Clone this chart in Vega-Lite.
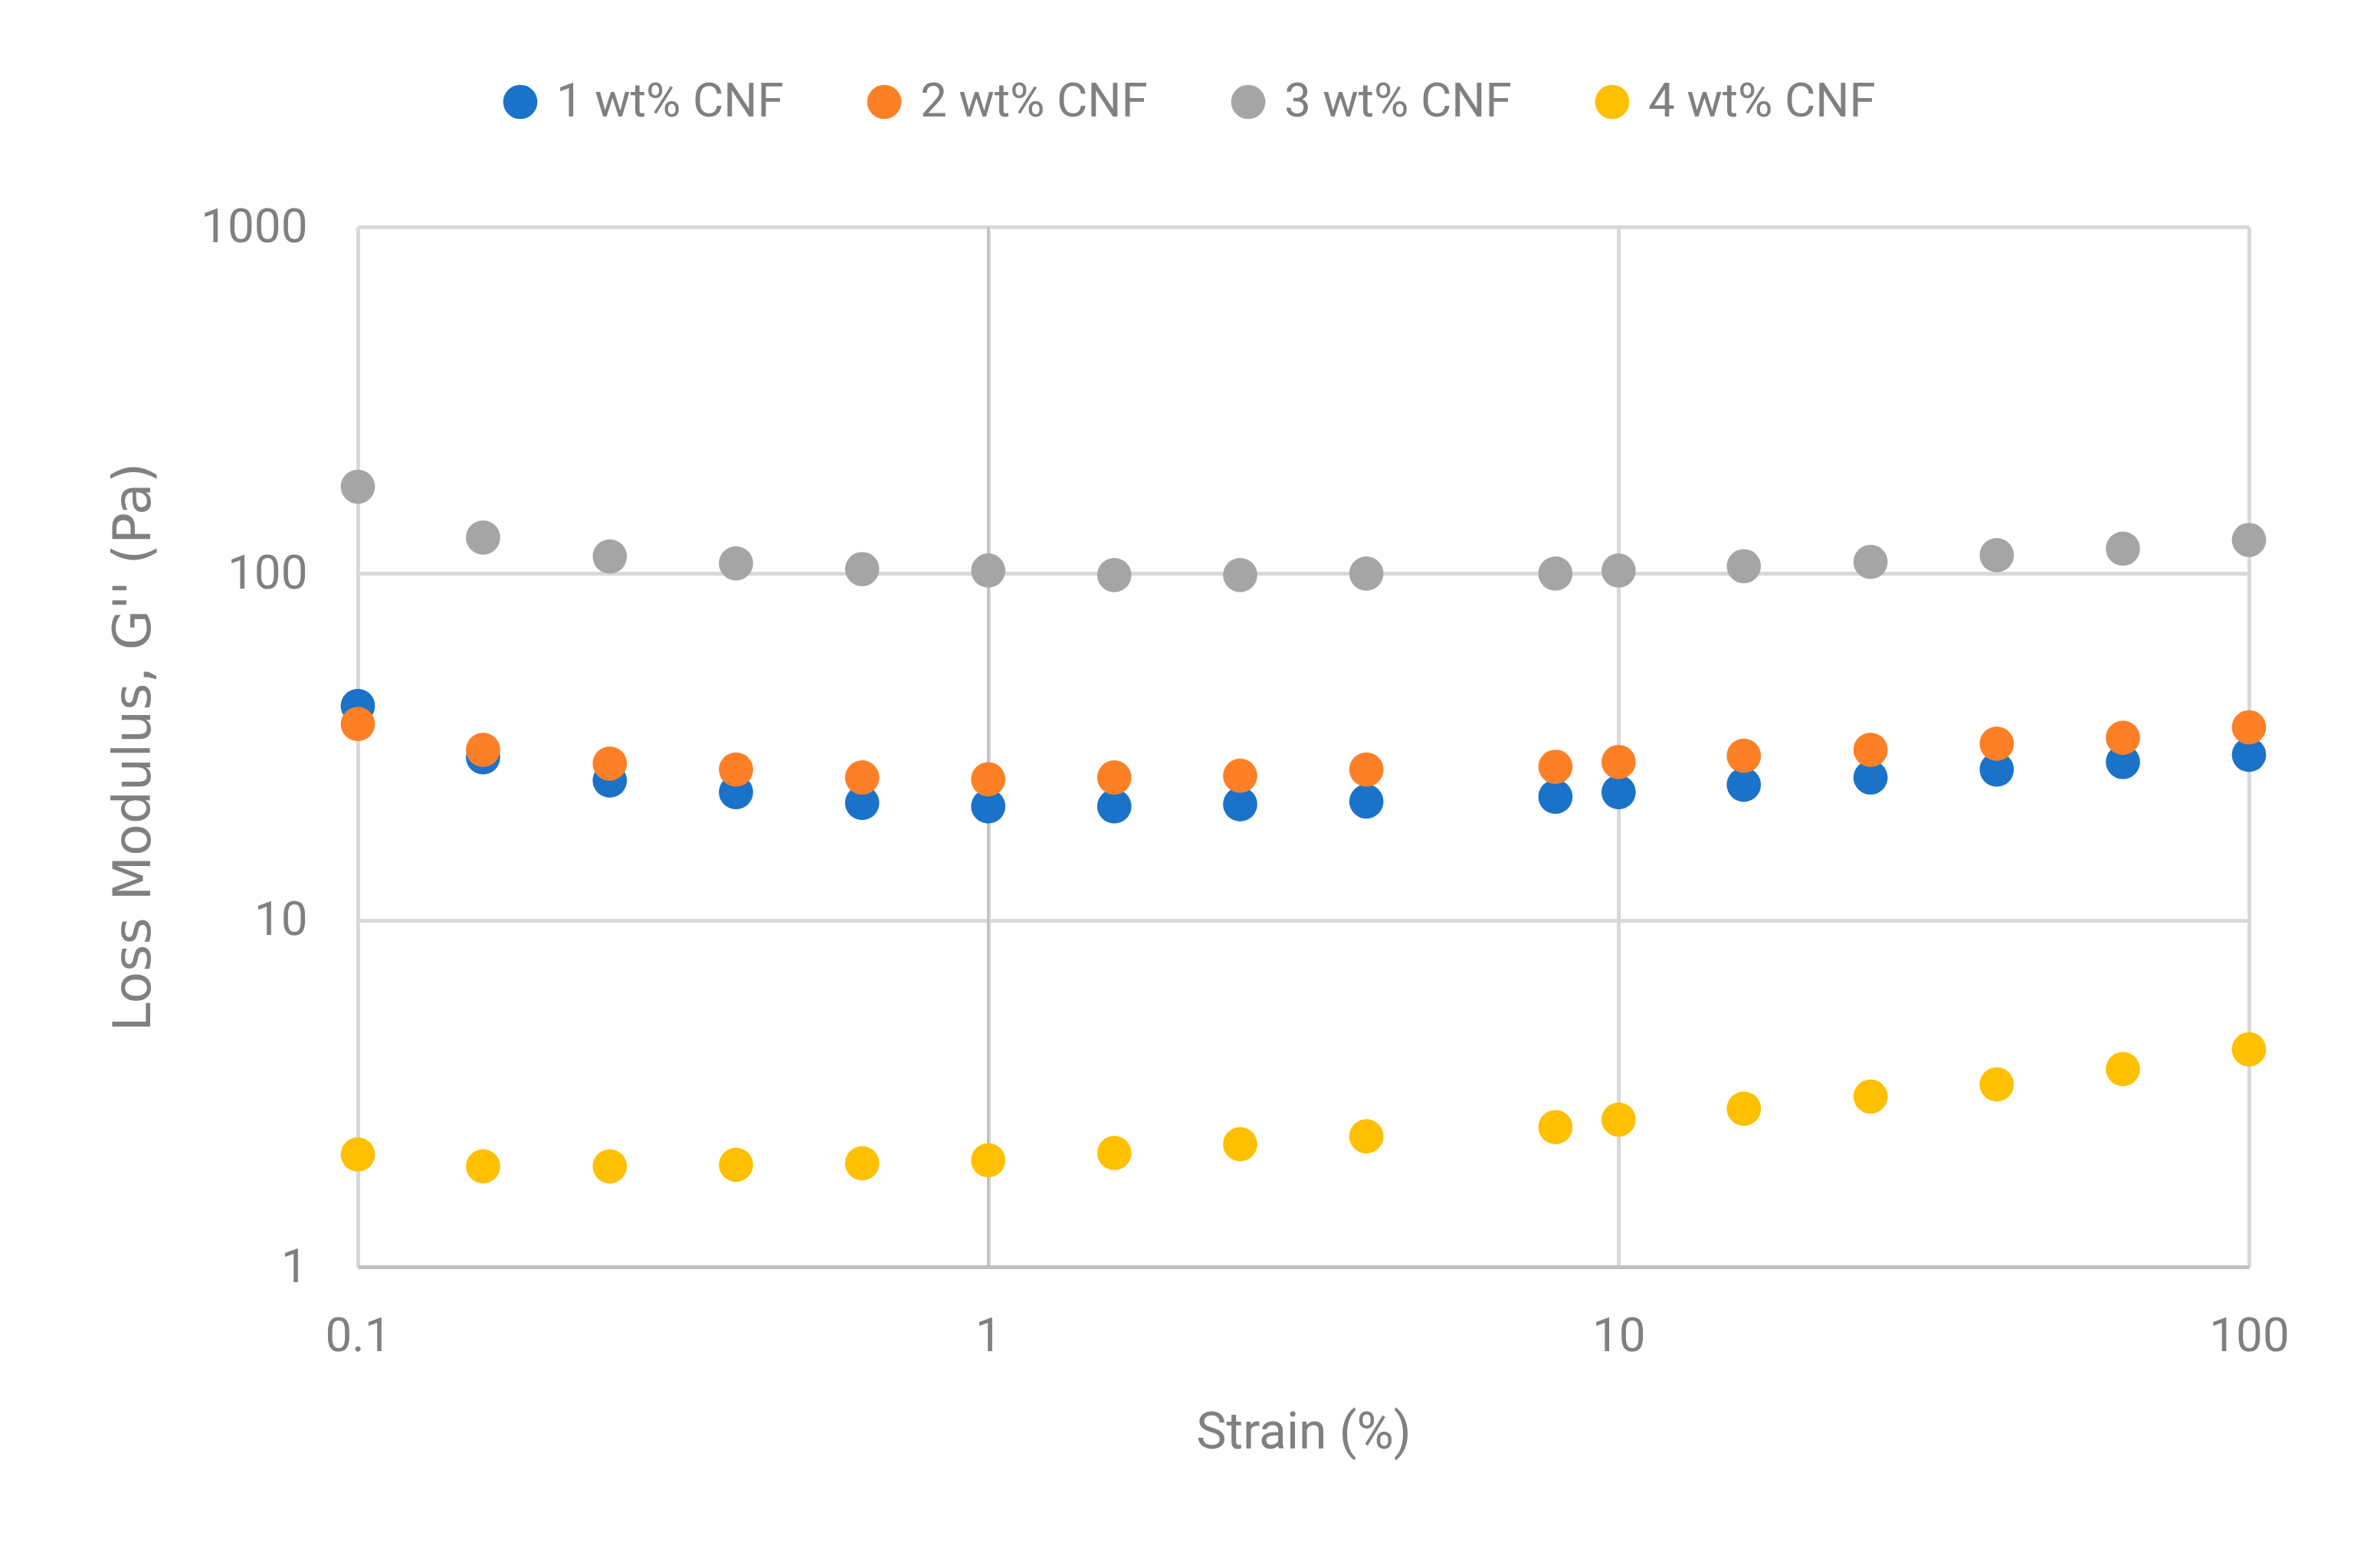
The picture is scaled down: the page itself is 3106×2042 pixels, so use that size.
{
  "$schema": "https://vega.github.io/schema/vega-lite/v6.json",
  "width": 2468,
  "height": 1357,
  "autosize": {"type": "none"},
  "padding": {"left": 467, "top": 296, "right": 171, "bottom": 389},
  "background": "white",
  "config": {
    "view": {"stroke": null},
    "font": "Roboto",
    "axis": {"labelColor": "#808080", "titleColor": "#808080", "titleFontWeight": "normal", "labelFont": "Roboto", "titleFont": "Roboto"}
  },
  "datasets": {
    "pts": [
      {"strain": 0.1, "g": 41.5, "series": "1 wt% CNF"},
      {"strain": 0.158, "g": 29.5, "series": "1 wt% CNF"},
      {"strain": 0.251, "g": 25.3, "series": "1 wt% CNF"},
      {"strain": 0.398, "g": 23.4, "series": "1 wt% CNF"},
      {"strain": 0.631, "g": 21.8, "series": "1 wt% CNF"},
      {"strain": 1.0, "g": 21.3, "series": "1 wt% CNF"},
      {"strain": 1.585, "g": 21.3, "series": "1 wt% CNF"},
      {"strain": 2.51, "g": 21.6, "series": "1 wt% CNF"},
      {"strain": 3.98, "g": 22.0, "series": "1 wt% CNF"},
      {"strain": 7.94, "g": 22.7, "series": "1 wt% CNF"},
      {"strain": 10.0, "g": 23.4, "series": "1 wt% CNF"},
      {"strain": 15.8, "g": 24.6, "series": "1 wt% CNF"},
      {"strain": 25.1, "g": 25.8, "series": "1 wt% CNF"},
      {"strain": 39.8, "g": 27.2, "series": "1 wt% CNF"},
      {"strain": 63.1, "g": 28.6, "series": "1 wt% CNF"},
      {"strain": 100, "g": 30.0, "series": "1 wt% CNF"},
      {"strain": 0.1, "g": 36.8, "series": "2 wt% CNF"},
      {"strain": 0.158, "g": 31.0, "series": "2 wt% CNF"},
      {"strain": 0.251, "g": 28.3, "series": "2 wt% CNF"},
      {"strain": 0.398, "g": 27.2, "series": "2 wt% CNF"},
      {"strain": 0.631, "g": 25.8, "series": "2 wt% CNF"},
      {"strain": 1.0, "g": 25.5, "series": "2 wt% CNF"},
      {"strain": 1.585, "g": 25.8, "series": "2 wt% CNF"},
      {"strain": 2.51, "g": 26.1, "series": "2 wt% CNF"},
      {"strain": 3.98, "g": 27.2, "series": "2 wt% CNF"},
      {"strain": 7.94, "g": 27.7, "series": "2 wt% CNF"},
      {"strain": 10.0, "g": 28.6, "series": "2 wt% CNF"},
      {"strain": 15.8, "g": 29.8, "series": "2 wt% CNF"},
      {"strain": 25.1, "g": 31.0, "series": "2 wt% CNF"},
      {"strain": 39.8, "g": 32.3, "series": "2 wt% CNF"},
      {"strain": 63.1, "g": 33.6, "series": "2 wt% CNF"},
      {"strain": 100, "g": 36.0, "series": "2 wt% CNF"},
      {"strain": 0.1, "g": 178, "series": "3 wt% CNF"},
      {"strain": 0.158, "g": 127, "series": "3 wt% CNF"},
      {"strain": 0.251, "g": 112, "series": "3 wt% CNF"},
      {"strain": 0.398, "g": 107, "series": "3 wt% CNF"},
      {"strain": 0.631, "g": 103, "series": "3 wt% CNF"},
      {"strain": 1.0, "g": 102, "series": "3 wt% CNF"},
      {"strain": 1.585, "g": 99, "series": "3 wt% CNF"},
      {"strain": 2.51, "g": 99, "series": "3 wt% CNF"},
      {"strain": 3.98, "g": 100, "series": "3 wt% CNF"},
      {"strain": 7.94, "g": 100, "series": "3 wt% CNF"},
      {"strain": 10.0, "g": 102, "series": "3 wt% CNF"},
      {"strain": 15.8, "g": 105, "series": "3 wt% CNF"},
      {"strain": 25.1, "g": 108, "series": "3 wt% CNF"},
      {"strain": 39.8, "g": 113, "series": "3 wt% CNF"},
      {"strain": 63.1, "g": 118, "series": "3 wt% CNF"},
      {"strain": 100, "g": 125, "series": "3 wt% CNF"},
      {"strain": 0.1, "g": 2.11, "series": "4 wt% CNF"},
      {"strain": 0.158, "g": 1.95, "series": "4 wt% CNF"},
      {"strain": 0.251, "g": 1.95, "series": "4 wt% CNF"},
      {"strain": 0.398, "g": 1.97, "series": "4 wt% CNF"},
      {"strain": 0.631, "g": 1.99, "series": "4 wt% CNF"},
      {"strain": 1.0, "g": 2.03, "series": "4 wt% CNF"},
      {"strain": 1.585, "g": 2.13, "series": "4 wt% CNF"},
      {"strain": 2.51, "g": 2.26, "series": "4 wt% CNF"},
      {"strain": 3.98, "g": 2.38, "series": "4 wt% CNF"},
      {"strain": 7.94, "g": 2.53, "series": "4 wt% CNF"},
      {"strain": 10.0, "g": 2.66, "series": "4 wt% CNF"},
      {"strain": 15.8, "g": 2.86, "series": "4 wt% CNF"},
      {"strain": 25.1, "g": 3.1, "series": "4 wt% CNF"},
      {"strain": 39.8, "g": 3.36, "series": "4 wt% CNF"},
      {"strain": 63.1, "g": 3.72, "series": "4 wt% CNF"},
      {"strain": 100, "g": 4.24, "series": "4 wt% CNF"}
    ]
  },
  "layer": [
    {
      "data": {"values": [{"x": 1}]},
      "mark": {"type": "rule", "color": "#bfbfbf", "strokeWidth": 3},
      "encoding": {
        "x": {"field": "x", "type": "quantitative", "scale": {"type": "log", "domain": [0.1, 100]}}
      }
    },
    {
      "data": {"name": "pts"},
      "mark": {"type": "circle", "size": 2000, "opacity": 1},
      "encoding": {
        "x": {
          "field": "strain", "type": "quantitative",
          "scale": {"type": "log", "domain": [0.1, 100]},
          "axis": {
            "title": "Strain (%)", "values": [0.1, 1, 10, 100], "format": "~g",
            "labelFontSize": 62, "titleFontSize": 66, "labelPadding": 60, "titlePadding": 63,
            "labelFlush": false,
            "ticks": false, "domainColor": "#bfbfbf", "domainWidth": 5,
            "grid": true, "gridColor": "#d9d9d9", "gridWidth": 5
          }
        },
        "y": {
          "field": "g", "type": "quantitative",
          "scale": {"type": "log", "domain": [1, 1000]},
          "axis": {
            "title": "Loss Modulus, G'' (Pa)", "values": [1, 10, 100, 1000], "format": "~g",
            "labelFontSize": 62, "titleFontSize": 68, "titleFont": "DejaVu Sans", "labelPadding": 66, "titlePadding": 58,
            "labelFlush": false,
            "ticks": false, "domain": false,
            "grid": true, "gridColor": "#d9d9d9", "gridWidth": 5
          }
        },
        "color": {
          "field": "series", "type": "nominal",
          "scale": {"domain": ["1 wt% CNF", "2 wt% CNF", "3 wt% CNF", "4 wt% CNF"], "range": ["#1a73c9", "#fd7f26", "#a5a5a5", "#ffc000"]},
          "legend": {
            "title": null, "orient": "none", "direction": "horizontal", "columns": 4,
            "legendX": 181, "legendY": -194,
            "symbolType": "circle", "symbolSize": 2000, "symbolOpacity": 1,
            "labelFontSize": 62, "labelColor": "#808080", "labelFont": "Roboto",
            "labelOffset": 16, "columnPadding": 100, "labelLimit": 600
          }
        }
      }
    }
  ]
}
